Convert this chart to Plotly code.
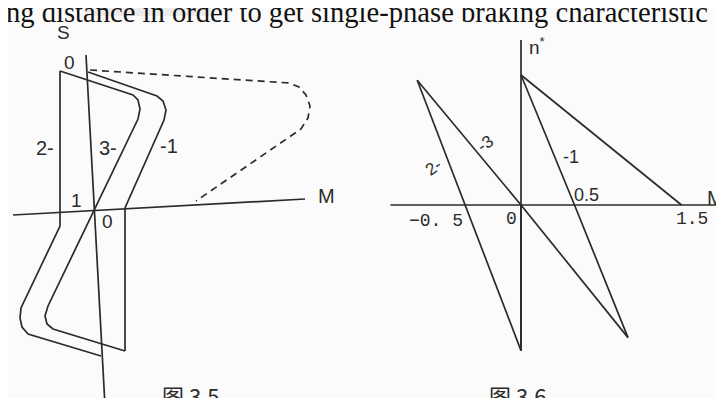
"""图 3.5 / 图 3.6 制动特性 (scan recreation)"""
import plotly.graph_objects as go

# ---- left figure (图 3.5), arbitrary S-M units ----
s_axis_x = [-9, 10]
s_axis_y = [153, -198]
m_axis_x = [-82, 210]
m_axis_y = [-7, 9]

curve1_x = [-7, 62, 68, 71, 69, 30, 30]
curve1_y = [136, 112, 107, 98, 88, 0, -143]
curve2_x = [-35, -35, -74, -75, -73, -67, 6]
curve2_y = [137, -18, -100, -110, -119, -126, -148]
curve3_x = [-35, 38, 43, 45, 43, 1, -47, -50, -48, -42, 30]
curve3_y = [137, 113, 108, 99, 89, 1, -98, -108, -116, -121, -143]
dashed_x = [-5, 194, 204, 211, 215, 213, 206, 101]
dashed_y = [138, 125, 121, 113, 102, 90, 79, 7]

# ---- right figure (图 3.6), M* and n* ----
n_axis_m = [0, 0]
n_axis_n = [1.27, -1.12]
m2_axis_m = [-1.22, 1.98]
m2_axis_n = [0, 0]

r_curve1_m = [0, 0.5, 1.0]
r_curve1_n = [1.0, 0, -1.02]
r_upper_m = [0, 1.5]
r_upper_n = [1.0, 0]
r_lower_m = [0, 1.0]
r_lower_n = [0, -1.02]
r_curve2_m = [-0.97, -0.52, 0]
r_curve2_n = [0.96, 0, -1.12]
r_curve3_m = [-0.97, 0, 0]
r_curve3_n = [0.96, 0, -1.12]

INK = "#2b2b2b"
W, H = 724, 398

fig = go.Figure()


def line(x, y, xa="x", ya="y", dash="solid"):
    fig.add_trace(go.Scatter(
        x=x, y=y, mode="lines", xaxis=xa, yaxis=ya,
        line=dict(color=INK, width=1.7, dash=dash),
        hoverinfo="skip", showlegend=False,
    ))


for xs, ys in [(s_axis_x, s_axis_y), (m_axis_x, m_axis_y), (curve1_x, curve1_y),
               (curve2_x, curve2_y), (curve3_x, curve3_y)]:
    line(xs, ys)
line(dashed_x, dashed_y, dash="7px,5px")

for xs, ys in [(n_axis_m, n_axis_n), (m2_axis_m, m2_axis_n), (r_curve1_m, r_curve1_n),
               (r_upper_m, r_upper_n), (r_lower_m, r_lower_n),
               (r_curve2_m, r_curve2_n), (r_curve3_m, r_curve3_n)]:
    line(xs, ys, "x2", "y2")

# pixel mapping of the two panels (origin pixel, px per unit)
L0X, L0Y = 87, 200
R0X, R0Y, RSX, RSY = 513, 197, 107, 130

SANS = "Liberation Sans"
MONO = "Liberation Mono"
ann = []


def lab(text, x, y, xr="x", yr="y", size=19, family=SANS, angle=0, xanchor="center"):
    ann.append(dict(text=text, x=x, y=y, xref=xr, yref=yr, showarrow=False,
                    textangle=angle, xanchor=xanchor,
                    font=dict(family=family, size=size, color=INK)))


lab("S", -32, 176)
lab("0", -26, 146)
lab("2-", -50, 60, size=20)
lab("3-", 13, 60, size=20)
lab("-1", 74, 62, size=20)
lab("1", -19, 8)
lab("0", 12, -13)
lab("M", 231, 12, size=20)

lab("n<sup>*</sup>", 0.15, 1.22, "x2", "y2", size=19)
lab("2-", -0.82, 0.29, "x2", "y2", size=17, angle=-35)
lab("-3", -0.33, 0.47, "x2", "y2", size=17, angle=-35)
lab("-1", 0.47, 0.37, "x2", "y2", size=18)
lab("0.5", 0.61, 0.08, "x2", "y2", size=18)
lab("−0. 5", -0.79, -0.12, "x2", "y2", size=18, family=MONO)
lab("0", -0.09, -0.11, "x2", "y2", size=18, family=MONO)
lab("1.5", 1.60, -0.11, "x2", "y2", size=18, family=MONO)
ann.append(dict(text="M*", x=697 / W, y=(H - 190) / H, xref="paper", yref="paper",
                xanchor="left", showarrow=False,
                font=dict(family=SANS, size=20, color=INK)))

# running text of the page, clipped at the top
ann.append(dict(text="ng distance in order to get single-phase braking characteristic",
                x=-4 / W, y=1 - 4 / H, xref="paper", yref="paper", xanchor="left",
                yanchor="middle", showarrow=False,
                font=dict(family="Liberation Serif", size=28.6, color="#111111")))
# captions, clipped at the bottom
for cap, cx in [("图 3.5", 152), ("图 3.6", 540)]:
    ann.append(dict(text=cap, x=cx / W, y=(H - 369) / H, xref="paper", yref="paper",
                    yanchor="top", showarrow=False,
                    font=dict(family="Noto Sans CJK SC", size=22, color=INK)))

fig.update_layout(
    width=W, height=H,
    margin=dict(l=0, r=0, t=0, b=0),
    paper_bgcolor="#fcfbfb", plot_bgcolor="rgba(0,0,0,0)",
    xaxis=dict(domain=[0, 0.5], range=[-L0X, 362 - L0X], visible=False),
    yaxis=dict(domain=[0, 1], range=[L0Y - H, L0Y], visible=False),
    xaxis2=dict(domain=[0.5, 1], range=[(362 - R0X) / RSX, (W - R0X) / RSX],
                anchor="y2", visible=False),
    yaxis2=dict(domain=[0, 1], range=[(R0Y - H) / RSY, R0Y / RSY],
                anchor="x2", visible=False),
    annotations=ann,
    shapes=[dict(type="rect", xref="paper", yref="paper", x0=77 / W, x1=203 / W,
                 y0=1 - 8 / H, y1=1, fillcolor="#ececec", line_width=0, layer="below")],
)

fig.write_html("out.html")
